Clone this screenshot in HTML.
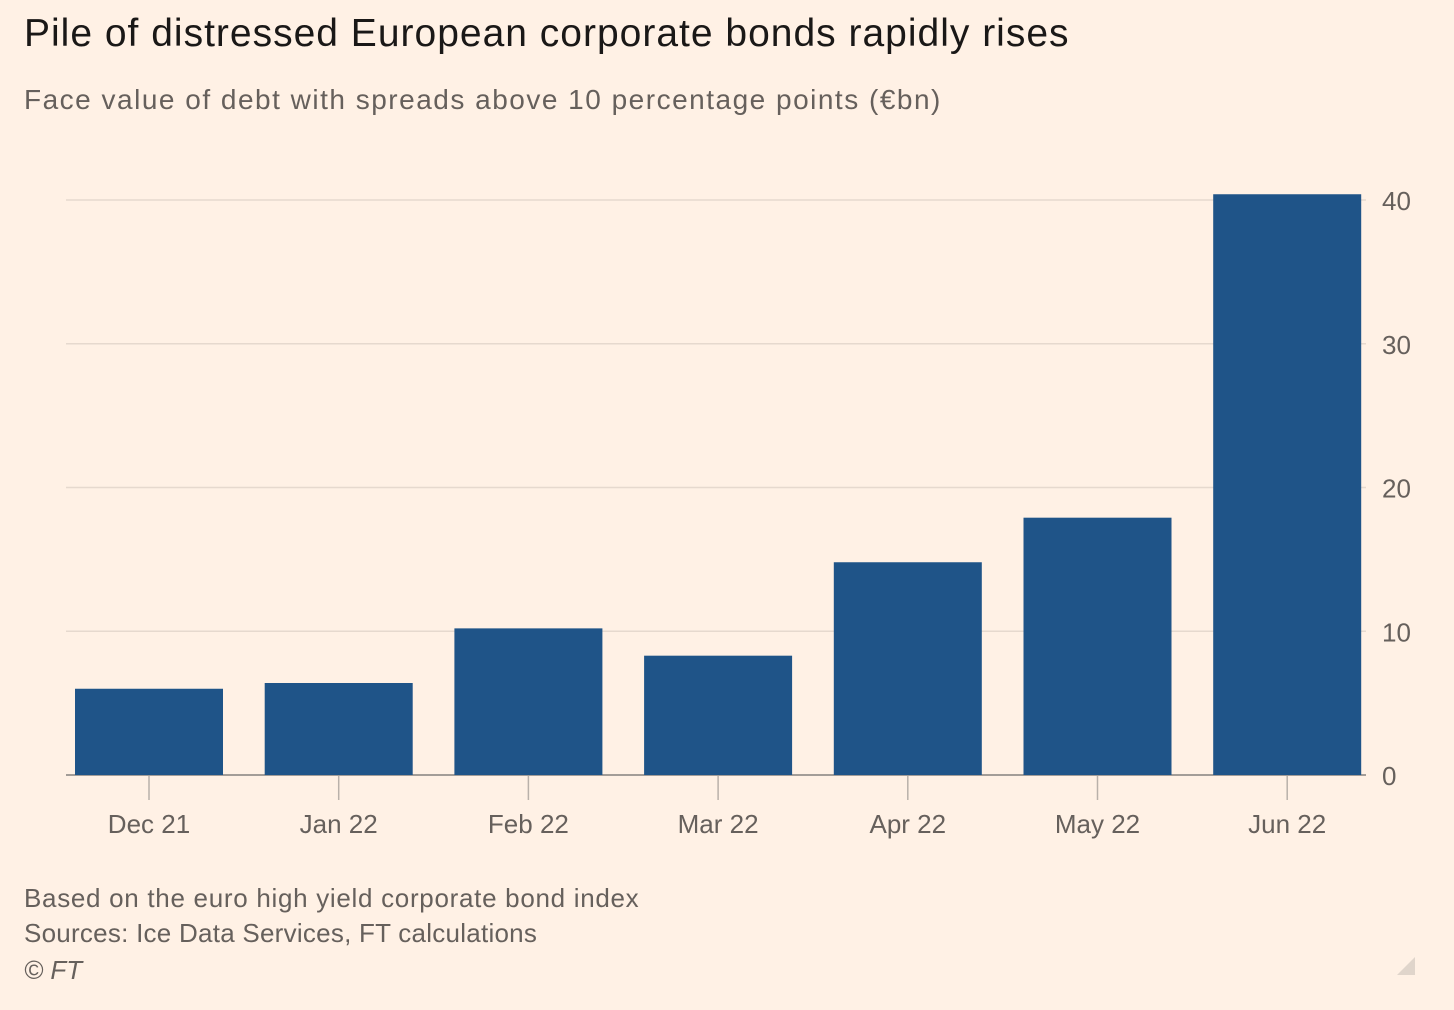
<!DOCTYPE html>
<html><head><meta charset="utf-8"><style>
body{margin:0;width:1454px;height:1010px;background:#fff1e5;font-family:"Liberation Sans",sans-serif;overflow:hidden;position:relative}
.t{position:absolute;left:24px;white-space:nowrap}
</style></head><body>
<div class="t" style="top:12px;font-size:39px;color:#1a1817;letter-spacing:1px">Pile of distressed European corporate bonds rapidly rises</div>
<div class="t" style="top:84px;font-size:28px;color:#66605c;letter-spacing:1.5px">Face value of debt with spreads above 10 percentage points (€bn)</div>
<svg id="c" width="1454" height="1010" style="position:absolute;left:0;top:0"></svg>
<div class="t" style="top:883px;font-size:26px;color:#66605c;letter-spacing:0.7px">Based on the euro high yield corporate bond index</div>
<div class="t" style="top:918px;font-size:26px;color:#66605c;letter-spacing:0.25px">Sources: Ice Data Services, FT calculations</div>
<div class="t" style="top:955px;font-size:26px;color:#66605c;font-style:italic">© FT</div>
<svg width="20" height="20" style="position:absolute;left:1395px;top:957px"><polygon points="20,0 20,18 2,18" fill="#e0d5cb"/></svg>
<script>
const categories=["Dec 21","Jan 22","Feb 22","Mar 22","Apr 22","May 22","Jun 22"];
const values=[6.0,6.4,10.2,8.3,14.8,17.9,40.4];
const yTicks=[0,10,20,30,40];
const NS="http://www.w3.org/2000/svg",svg=document.getElementById('c');
const y=v=>775-v*14.375;
const xc=i=>149+i*189.7;
function mk(t,a){const e=document.createElementNS(NS,t);for(const k in a)e.setAttribute(k,a[k]);svg.appendChild(e);return e;}
yTicks.forEach(v=>{
 const l=mk('line',{x1:66,x2:1366,y1:y(v),y2:y(v),stroke:v?'#e6d9ce':'#a39d98','stroke-width':v?1.5:2});
 
 
 const t=mk('text',{x:1382,y:y(v)+10,'font-size':26,fill:'#66605c'});t.textContent=v;
 
 
});
categories.forEach((c,i)=>{
 const tk=mk('line',{x1:xc(i),x2:xc(i),y1:776,y2:800,stroke:'#b9b1aa','stroke-width':1.5});
 
 
 const b=mk('rect',{x:xc(i)-74,y:y(values[i]),width:148,height:775-y(values[i]),fill:'#1f5488'});
 
 
 const t=mk('text',{x:xc(i),y:833,'font-size':26,fill:'#66605c','text-anchor':'middle'});t.textContent=c;
 
 
});
</script>
</body></html>
